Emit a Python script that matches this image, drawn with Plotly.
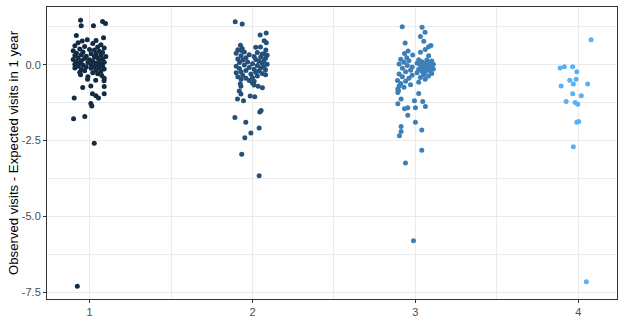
import plotly.graph_objects as go

groups = [1, 2, 3, 4]
colors = ["#132B43", "#25507A", "#3D7FB8", "#56B1F7"]
y_ticks = [0.0, -2.5, -5.0, -7.5]
y_ticktext = ["0.0", "-2.5", "-5.0", "-7.5"]
x_ticks = [1, 2, 3, 4]
y_title = "Observed visits - Expected visits in 1 year"

# group 1: residuals and horizontal jitter
g1_y = [1.46, 1.28, 1.28, 1.42, 1.36, 0.96, 0.89, 0.82, 0.78, 0.80,
        0.72, 0.70, 0.66, 0.62, 0.60, 0.58, 0.55, 0.52, 0.50, 0.48, 0.46, 0.44, 0.42, 0.40, 0.38,
        0.36, 0.35, 0.33, 0.31, 0.30, 0.28, 0.27, 0.25, 0.23, 0.22, 0.20, 0.19, 0.17, 0.16, 0.14,
        0.13, 0.11, 0.10, 0.08, 0.07, 0.05, 0.04, 0.02, 0.01, 0.00, -0.01, -0.02, -0.04, -0.05,
        -0.06, -0.08, -0.09, -0.11, -0.12, -0.14, -0.16, -0.18, -0.20, -0.22, -0.25, -0.27, -0.30,
        -0.33, -0.36, -0.40, -0.45,
        -0.48, -0.51, -0.53, -0.70, -0.75, -0.72, -0.96, -1.02, -1.10, -0.96, -1.10, -1.28, -1.36,
        -1.78, -1.71, -2.59, -7.30]
g1_jit = [-0.055, -0.051, 0.024, 0.080, 0.098, -0.081, 0.086, -0.014, -0.045, 0.040,
          -0.07, 0.02, 0.07, -0.09, -0.03, 0.05, 0.09, -0.06, 0.00, 0.03, -0.10, 0.06, -0.04, 0.08, -0.08,
          0.01, 0.04, -0.05, 0.07, -0.09, -0.02, 0.10, 0.03, -0.07, 0.05, -0.03, 0.08, -0.10, 0.00, 0.06,
          -0.05, 0.02, -0.08, 0.09, -0.01, 0.04, -0.06, 0.07, -0.09, 0.01, 0.05, -0.04, 0.08, -0.07,
          0.03, -0.02, 0.06, -0.09, 0.01, 0.09, -0.05, 0.04, -0.03, 0.07, -0.06, 0.02, 0.05,
          -0.055, 0.075, -0.010, 0.090,
          -0.012, 0.038, 0.089, 0.008, -0.042, 0.090, 0.018, 0.039, 0.055, 0.090, -0.094, 0.008, 0.014,
          -0.098, -0.029, 0.029, -0.075]

g2_y = [1.41, 1.34, 1.04, 0.98, 0.79, 0.72, 0.64, 0.57, 0.53, 0.58, 0.49, 0.47, 0.48, 0.36,
        0.42, 0.40, 0.38, 0.35, 0.33, 0.31, 0.29, 0.27, 0.25, 0.23, 0.21, 0.19, 0.17, 0.15, 0.13,
        0.11, 0.09, 0.07, 0.05, 0.03, 0.01, -0.01, -0.03, -0.05, -0.07, -0.09, -0.11, -0.13, -0.15,
        -0.17, -0.19, -0.21, -0.23, -0.25, -0.27, -0.29, -0.31, -0.33, -0.35, -0.37, -0.40, -0.42,
        -0.45, -0.48, -0.52, -0.55,
        -0.63, -0.71, -0.60, -0.67, -0.71, -0.76, -0.87, -0.97, -1.13, -1.19, -1.03, -1.06, -1.51,
        -1.56, -1.74, -1.90, -2.09, -2.25, -2.41, -2.95, -3.66]
g2_jit = [-0.106, -0.063, 0.084, 0.047, 0.072, 0.085, -0.074, 0.020, -0.063, 0.049, -0.090, -0.069, 0.082, 0.072,
          -0.05, 0.03, -0.10, 0.06, -0.02, 0.09, -0.07, 0.01, 0.05, -0.04, 0.08, -0.09, 0.02, -0.06, 0.07,
          0.04, -0.03, -0.08, 0.06, 0.00, 0.09, -0.05, 0.03, -0.10, 0.07, -0.02, 0.05, -0.08, 0.01,
          0.08, -0.04, 0.04, -0.07, 0.02, -0.10, 0.06, -0.01, 0.08, -0.06, 0.03, -0.09, 0.00,
          -0.04, -0.07, -0.02, 0.01,
          -0.075, -0.071, 0.000, 0.010, 0.035, 0.061, -0.081, -0.071, -0.092, -0.055, -0.014, 0.014, 0.053,
          0.045, -0.108, -0.041, 0.041, -0.010, -0.047, -0.066, 0.041]

g3_y = [1.25, 1.23, 1.07, 0.93, 0.71, 0.77, 0.59, 0.63, 0.41, 0.29, 0.37, 0.32, 0.23, 0.45, 0.50,
        0.18, 0.16, 0.15, 0.13, 0.12, 0.10, 0.08, 0.07, 0.05, 0.04, 0.02, 0.01, 0.00, -0.02, -0.03,
        -0.05, -0.06, -0.08, -0.09, -0.11, -0.12, -0.14, -0.15, -0.17, -0.18, -0.20, -0.22, -0.23,
        -0.25, -0.27, -0.29, -0.31, -0.33, -0.35, -0.37, -0.40, -0.42, -0.45, -0.48, -0.52, -0.55,
        -0.58, -0.62, -0.66, -0.70, -0.74, -0.80, -0.86,
        -0.92, -0.95, -1.13, -1.29, -1.21, -1.38, -1.45, -1.42, -1.19, -1.42, -1.67, -1.90, -2.04,
        -2.15, -2.20, -2.34, -2.82, -3.24, -5.80]
g3_jit = [-0.081, 0.041, 0.059, 0.031, -0.063, 0.051, 0.081, 0.095, 0.031, 0.081, -0.067, -0.017, -0.053, -0.045, 0.060,
          -0.09, 0.02, 0.07, -0.04, 0.10, 0.04, -0.07, 0.09, 0.01, 0.06, -0.10, 0.11, 0.03, 0.07, -0.05,
          0.10, 0.04, -0.02, 0.08, 0.05, -0.08, 0.11, 0.02, 0.07, -0.03, 0.09, 0.04, -0.06,
          0.06, 0.01, 0.10, -0.10, 0.05, -0.02, 0.08, -0.08, 0.03, -0.04, 0.06, -0.11, -0.06,
          0.02, -0.09, -0.03, -0.10, -0.07, -0.108, -0.104,
          -0.108, 0.020, -0.088, -0.108, 0.045, 0.061, -0.067, -0.047, -0.006, 0.000, -0.047, 0.000, -0.088,
          0.039, -0.088, -0.098, 0.039, -0.061, -0.012]

g4_y = [0.82, -0.11, -0.07, -0.07, -0.23, -0.51, -0.48, -0.64, -0.64, -0.70, -0.96, -1.02,
        -1.21, -1.25, -1.30, -1.90, -1.87, -2.70, -7.15]
g4_jit = [0.078, -0.112, -0.086, -0.035, -0.010, -0.053, -0.014, -0.031, 0.057, -0.106, -0.035, 0.018,
          -0.075, -0.020, -0.004, -0.010, 0.002, -0.031, 0.049]

ys = [g1_y, g2_y, g3_y, g4_y]
jits = [g1_jit, g2_jit, g3_jit, g4_jit]

fig = go.Figure()
for g, col, yv, jv in zip(groups, colors, ys, jits):
    fig.add_trace(go.Scatter(
        x=[g + j for j in jv], y=yv, mode="markers",
        marker=dict(size=5, color=col, line=dict(width=0)),
        showlegend=False))

axis_common = dict(
    showgrid=True, gridcolor="#EBEBEB", gridwidth=1.1,
    zeroline=False, showline=True, mirror=True, linecolor="#333333", linewidth=1,
    ticks="outside", ticklen=3, tickcolor="#333333", tickwidth=1,
    tickfont=dict(family="Liberation Sans, Arial, sans-serif", size=11, color="#4D4D4D"),
)

fig.update_layout(
    width=624, height=324,
    margin=dict(l=47, r=6, t=7, b=19),
    plot_bgcolor="white", paper_bgcolor="white",
    font=dict(family="Liberation Sans, Arial, sans-serif"),
    xaxis=dict(range=[0.739, 4.237], tickvals=x_ticks,
               minor=dict(dtick=0.5, tick0=0.5, showgrid=True, gridcolor="#EBEBEB", gridwidth=0.55, ticks=""),
               **axis_common),
    yaxis=dict(range=[-7.72, 1.90], tickvals=y_ticks, ticktext=y_ticktext,
               minor=dict(dtick=1.25, tick0=0, showgrid=True, gridcolor="#EBEBEB", gridwidth=0.55, ticks=""),
               **axis_common),
)

fig.add_annotation(
    text=y_title, textangle=-90, xref="paper", yref="paper",
    x=0, y=0.5, xanchor="center", yanchor="middle", xshift=-34, showarrow=False,
    font=dict(family="Liberation Sans, Arial, sans-serif", size=13.2, color="black"))

fig.write_html("out.html")
